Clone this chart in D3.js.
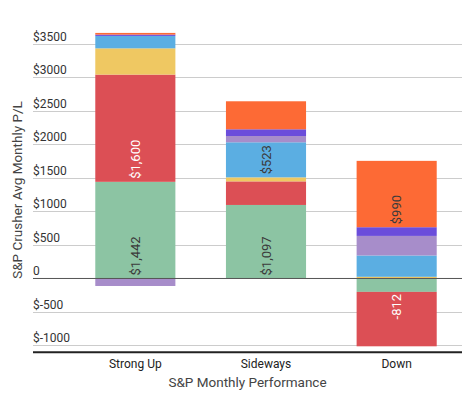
<!DOCTYPE html>
<html>
<head>
<meta charset="utf-8">
<script src="https://cdn.jsdelivr.net/npm/d3@7"></script>
<style>
  body { margin: 0; background: #fff; }
  text { font-family: Roboto, 'Noto Sans', sans-serif; }
</style>
</head>
<body>
<svg id="chart" width="475" height="397"></svg>
<script>
const width = 475
const height = 397

const categories = ['Strong Up', 'Sideways', 'Down']
const yTicks = [-1000, -500, 0, 500, 1000, 1500, 2000, 2500, 3000, 3500]

// one array per stacked series, in stacking order
const greenVals = [1442, 1097, -200]
const redVals = [1600, 352, -812]
const yellowVals = [392, 60, 25]
const blueVals = [185, 523, 318]
const lavenderVals = [-112, 94, 292]
const indigoVals = [20, 100, 130]
const orangeVals = [25, 418, 990]

const seriesKeys = ['green', 'red', 'yellow', 'blue', 'lavender', 'indigo', 'orange']
const seriesVals = [greenVals, redVals, yellowVals, blueVals, lavenderVals, indigoVals, orangeVals]
const colors = ['#8cc4a3', '#dc4f55', '#efc862', '#5baee2', '#a78dca', '#6b4ddb', '#fd6a35']
const labelColors = ['#3b3b3b', '#ffffff', '#3b3b3b', '#3b3b3b', '#3b3b3b', '#ffffff', '#3b3b3b']

const plot = { left: 33, right: 462 }

const table = categories.map((c, i) => {
  const row = { category: c }
  seriesKeys.forEach((k, j) => { row[k] = seriesVals[j][i] })
  return row
})

const stack = d3.stack()
  .keys(seriesKeys)
  .offset(d3.stackOffsetDiverging)
const layers = stack(table)

const x = d3.scaleBand()
  .domain(categories)
  .range([70, plot.right])
  .paddingInner(0.387)
  .paddingOuter(0.1935)

const y = d3.scaleLinear()
  .domain([-1100, 4000])
  .range([352.2, 10.4])

const svg = d3.select('#chart')

// gridlines
svg.append('g')
  .selectAll('line')
  .data(yTicks)
  .join('line')
  .attr('x1', plot.left)
  .attr('x2', plot.right)
  .attr('y1', d => Math.round(y(d)) + 0.5)
  .attr('y2', d => Math.round(y(d)) + 0.5)
  .attr('stroke', '#cccccc')
  .attr('stroke-width', 1)

// tick labels sit above their gridline
svg.append('g')
  .selectAll('text')
  .data(yTicks)
  .join('text')
  .attr('x', plot.left)
  .attr('y', d => y(d) - 3)
  .attr('font-size', 12)
  .attr('fill', '#333')
  .text(d => d === 0 ? '0' : '$' + d)

// bars
const barG = svg.append('g')
barG.selectAll('g')
  .data(layers)
  .join('g')
  .attr('fill', (d, i) => colors[i])
  .selectAll('rect')
  .data(d => d.map(p => ({ p, cat: p.data.category })))
  .join('rect')
  .attr('x', d => x(d.cat))
  .attr('width', x.bandwidth())
  .attr('y', d => y(d.p[1]))
  .attr('height', d => y(d.p[0]) - y(d.p[1]))

// zero line
svg.append('line')
  .attr('x1', plot.left)
  .attr('x2', plot.right)
  .attr('y1', y(0))
  .attr('y2', y(0))
  .attr('stroke', '#555')
  .attr('stroke-width', 1)

// bottom axis line
svg.append('line')
  .attr('x1', plot.left)
  .attr('x2', plot.right)
  .attr('y1', y(-1100))
  .attr('y2', y(-1100))
  .attr('stroke', '#222')
  .attr('stroke-width', 2)

// value annotations, anchored at the edge nearest zero, only where they fit
const fmt = d3.formatLocale({ decimal: '.', thousands: ',', grouping: [3], currency: ['$', ''], minus: '-' }).format(',')
const labelG = svg.append('g')
layers.forEach((layer, i) => {
  layer.forEach(p => {
    const v = p.data[layer.key]
    const cx = x(p.data.category) + x.bandwidth() / 2
    const segH = Math.abs(y(p[0]) - y(p[1]))
    const t = labelG.append('text')
      .attr('font-size', 13)
      .attr('fill', labelColors[i])
      .attr('dominant-baseline', 'central')
      .text(v < 0 ? fmt(v) : '$' + fmt(v))
    const len = t.node().getComputedTextLength()
    if (len + 3 > segH) { t.remove(); return }
    if (v >= 0) {
      const yy = y(p[0]) - 3
      t.attr('text-anchor', 'start').attr('transform', `translate(${cx},${yy}) rotate(-90)`)
    } else {
      const yy = y(p[1]) + 2
      t.attr('text-anchor', 'end').attr('transform', `translate(${cx},${yy}) rotate(-90)`)
    }
  })
})

// category labels
svg.append('g')
  .selectAll('text')
  .data(categories)
  .join('text')
  .attr('x', d => x(d) + x.bandwidth() / 2)
  .attr('y', 368)
  .attr('text-anchor', 'middle')
  .attr('font-size', 12)
  .attr('fill', '#222')
  .text(d => d)

// axis titles
svg.append('text')
  .attr('x', (plot.left + plot.right) / 2)
  .attr('y', 387)
  .attr('text-anchor', 'middle')
  .attr('font-size', 13.5)
  .attr('fill', '#444')
  .text('S&P Monthly Performance')

svg.append('text')
  .attr('transform', 'translate(22,190) rotate(-90)')
  .attr('text-anchor', 'middle')
  .attr('font-size', 13.5)
  .attr('fill', '#444')
  .text('S&P Crusher Avg Monthly P/L')
</script>
</body>
</html>
